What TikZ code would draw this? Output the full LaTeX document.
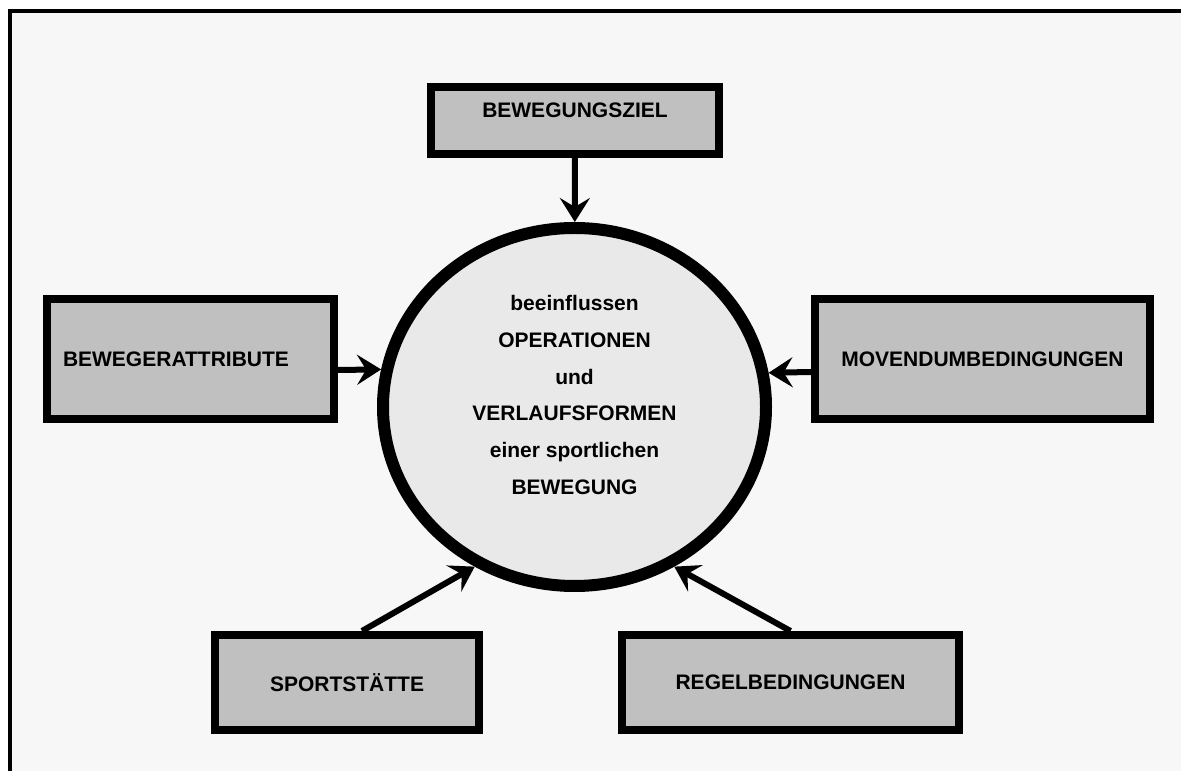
\documentclass[tikz,border=0pt]{standalone}
\usepackage{fontspec}
\setmainfont{Liberation Sans}
\usetikzlibrary{arrows.meta,positioning,shapes.geometric}
\definecolor{boxgray}{HTML}{C0C0C0}
\definecolor{hubgray}{HTML}{E9E9E9}
\definecolor{paper}{HTML}{F7F7F7}

\begin{document}
\begin{tikzpicture}[x=1pt,y=1pt,
  factor/.style={draw,line width=8pt,fill=boxgray,inner sep=0pt,
    font=\fontsize{21}{25}\selectfont\bfseries},
  feed/.style={line width=6pt,-{Stealth[length=24pt,width=30pt,inset=9pt]}}]
  \useasboundingbox (0,0) rectangle (1181,771);
  \fill[white] (0,0) rectangle (1181,771); % 余白
  \fill[paper] (10,0) rectangle (1181,760); % 枠の内側
  \draw[line width=4pt] (10,0) -- (10,760) -- (1181,760); % 左と上の枠線

  % 中央の楕円
  \node[ellipse,draw,line width=12pt,fill=hubgray,inner sep=0pt,
    minimum width=383pt,minimum height=358pt] (hub) at (574.5,364) {};
  \node[align=center,font=\fontsize{21}{36.8}\selectfont\bfseries] (hubtext) at (574.5,376)
    {beeinflussen\\OPERATIONEN\\und\\VERLAUFSFORMEN\\einer sportlichen\\BEWEGUNG};

  % 周りの要因
  \node[factor,minimum width=288pt,minimum height=67pt,text depth=20pt] (goal) at (575,650.5) {BEWEGUNGSZIEL};
  \node[factor,minimum width=287pt,minimum height=120pt,text width=255pt,inner xsep=16pt,
    align=left] (attr) at (190.5,412) {BEWEGERATTRIBUTE};
  \node[factor,minimum width=335pt,minimum height=120pt] (movend) at (982.5,412) {MOVENDUMBEDINGUNGEN};
  \node[factor,minimum width=264pt,minimum height=95pt] (sport) at (347,88.5) {SPORTSTÄTTE};
  \node[factor,minimum width=337pt,minimum height=95pt] (rule) at (790.5,88.5) {REGELBEDINGUNGEN};

  % 矢印（要因から楕円へ）
  \draw[feed] (goal) -- (hub);
  \draw[feed] ([yshift=-11pt]attr.east) -- (hub.169);
  \draw[feed] ([yshift=-13pt]movend.west) -- (hub.10);
  \draw[feed] ([xshift=15pt]sport.north) -- (hub.238);
  \draw[feed] (rule.north) -- (hub.302);
\end{tikzpicture}
\end{document}
